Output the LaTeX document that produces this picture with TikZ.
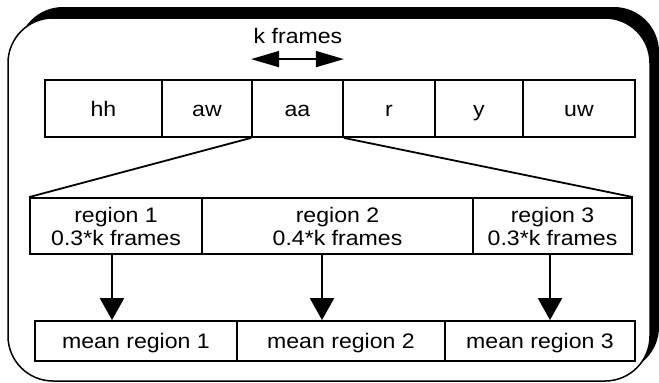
\documentclass[tikz,border=0pt]{standalone}
\usepackage{fontspec}
\setmainfont[FakeStretch=1.1]{Liberation Sans}
\usetikzlibrary{arrows.meta}
\begin{document}
\begin{tikzpicture}[x=1pt,y=-1pt,
  cell/.style={draw, line width=1.8pt, inner sep=0pt, align=center,
    font=\fontsize{21}{23}\selectfont},
  one/.style={cell, text height=15pt, text depth=0pt},
  lbl/.style={inner sep=0pt, font=\fontsize{21}{25}\selectfont},
  link/.style={line width=1.8pt},
  bigarrow/.style={line width=2pt, -{Triangle[length=22pt,width=24pt]}},
  dblarrow/.style={line width=1.6pt, {Triangle[length=28pt,width=16pt]}-{Triangle[length=28pt,width=16pt]}}
]
\newcommand\topstrut{\rule{0pt}{16pt}}
\newcommand\botstrut{\rule[-1pt]{0pt}{1pt}}
\useasboundingbox (0,0) rectangle (659,383);
% frame with shadow
\fill[black, rounded corners=45pt] (18,7) rectangle (659,372);
\draw[fill=white, line width=1.5pt, rounded corners=45pt] (8,18) rectangle (650,381);

% top row
\node[one, minimum width=117pt, minimum height=57pt] (hh) at (103.5,108.5) {hh};
\node[one, minimum width=90pt, minimum height=57pt] (aw) at (207,108.5) {aw};
\node[one, minimum width=91pt, minimum height=57pt] (aa) at (297.5,108.5) {aa};
\node[one, minimum width=92pt, minimum height=57pt] (r) at (389,108.5) {r};
\node[one, minimum width=88pt, minimum height=57pt] (y) at (479,108.5) {y};
\node[one, minimum width=112pt, minimum height=57pt] (uw) at (579,108.5) {uw};

% k frames
\node[lbl] (kf) at (298,36) {k frames};
\draw[dblarrow] ([yshift=20pt]aa.north west) -- ([yshift=20pt]aa.north east);

% region row
\node[cell, minimum width=172pt, minimum height=56pt] (r1) at (116,226) {\topstrut region 1\\0.3*k frames\botstrut};
\node[cell, minimum width=271pt, minimum height=56pt] (r2) at (337.5,226) {\topstrut region 2\\0.4*k frames\botstrut};
\node[cell, minimum width=159pt, minimum height=56pt] (r3) at (552.5,226) {\topstrut region 3\\0.3*k frames\botstrut};

% expansion lines
\draw[link] (aa.south west) -- (r1.north west);
\draw[link] (aa.south east) -- (r3.north east);

% bottom row
\node[one, minimum width=202pt, minimum height=40pt] (m1) at (136,341) {mean region 1};
\node[one, minimum width=208pt, minimum height=40pt] (m2) at (341,341) {mean region 2};
\node[one, minimum width=190pt, minimum height=40pt] (m3) at (540,341) {mean region 3};

% arrows
\draw[bigarrow] ([xshift=-4pt]r1.south) -- ([xshift=-4pt]r1.south |- m1.north);
\draw[bigarrow] ([xshift=-15.5pt]r2.south) -- ([xshift=-15.5pt]r2.south |- m2.north);
\draw[bigarrow] ([xshift=-2.5pt]r3.south) -- ([xshift=-2.5pt]r3.south |- m3.north);
\end{tikzpicture}
\end{document}
